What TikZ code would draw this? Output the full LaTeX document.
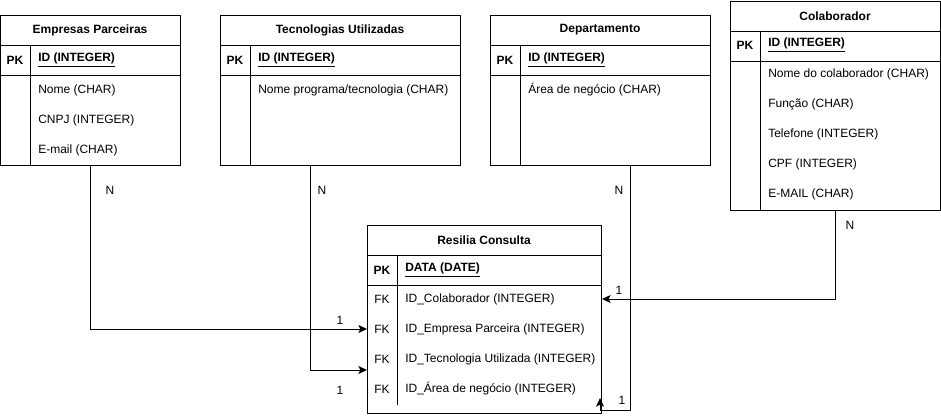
\documentclass[tikz,border=0pt]{standalone}
\usepackage{fontspec}
\setmainfont{Liberation Sans}
\usetikzlibrary{arrows.meta}

\begin{document}
\begin{tikzpicture}[x=0.75pt,y=-0.75pt,font=\fontsize{9}{11}\selectfont,
  box/.style={draw,line width=0.75pt,inner sep=0pt,anchor=north west},
  sep/.style={line width=0.75pt},
  title/.style={font=\fontsize{9}{11}\selectfont\bfseries},
  key/.style={font=\fontsize{9}{11}\selectfont\bfseries},
  field/.style={anchor=west,inner sep=0pt},
  rel/.style={draw,line width=0.75pt,-{Stealth[length=6.5pt,width=6pt,inset=1.5pt]}},
  card/.style={inner sep=0pt}]
  \useasboundingbox (0,0) rectangle (941,419);

  % Empresas Parceiras
  \node[box,minimum width=135pt,minimum height=112.5pt] (emp) at (0,15) {};
  \draw[sep] (0,45) -- (180,45) (0,75) -- (180,75) (30,45) -- (30,165);
  \node[title] (empT) at (90,30) {Empresas Parceiras};
  \node[key] (empPK) at (15,60) {PK};
  \node[field,key] (empId) at (38,60) {\underline{ID (INTEGER)}};
  \node[field] (empNome) at (38,90) {Nome (CHAR)};
  \node[field] (empCnpj) at (38,120) {CNPJ (INTEGER)};
  \node[field] (empMail) at (38,150) {E-mail (CHAR)};

  % Tecnologias Utilizadas
  \node[box,minimum width=180pt,minimum height=112.5pt] (tec) at (220,15) {};
  \draw[sep] (220,45) -- (460,45) (220,75) -- (460,75) (250,45) -- (250,165);
  \node[title] (tecT) at (340,30) {Tecnologias Utilizadas};
  \node[key] (tecPK) at (235,60) {PK};
  \node[field,key] (tecId) at (258,60) {\underline{ID (INTEGER)}};
  \node[field] (tecNome) at (258,90) {Nome programa/tecnologia (CHAR)};

  % Departamento
  \node[box,minimum width=165pt,minimum height=112.5pt] (dep) at (490,15) {};
  \draw[sep] (490,45) -- (710,45) (490,75) -- (710,75) (520,45) -- (520,165);
  \node[title] (depT) at (600,30) {Departamento};
  \node[key] (depPK) at (505,60) {PK};
  \node[field,key] (depId) at (528,60) {\underline{ID (INTEGER)}};
  \node[field] (depArea) at (528,90) {Área de negócio (CHAR)};

  % Colaborador
  \node[box,minimum width=157.5pt,minimum height=156.75pt] (col) at (730,1) {};
  \draw[sep] (730,31) -- (940,31) (730,61) -- (940,61) (760,31) -- (760,210);
  \node[title] (colT) at (835,16) {Colaborador};
  \node[key] (colPK) at (745,45) {PK};
  \node[field,key] (colId) at (768,45) {\underline{ID (INTEGER)}};
  \node[field] (colNome) at (768,74) {Nome do colaborador (CHAR)};
  \node[field] (colFunc) at (768,104) {Função (CHAR)};
  \node[field] (colTel) at (768,134) {Telefone (INTEGER)};
  \node[field] (colCpf) at (768,164) {CPF (INTEGER)};
  \node[field] (colMail) at (768,194) {E-MAIL (CHAR)};

  % Resilia Consulta
  \node[box,minimum width=175.5pt,minimum height=141pt] (res) at (367,225) {};
  \draw[sep] (367,255) -- (601,255) (367,285) -- (601,285) (397,255) -- (397,405);
  \node[title] (resT) at (484,240) {Resilia Consulta};
  \node[key] (resPK) at (382,270) {PK};
  \node[field,key] (resData) at (405,270) {\underline{DATA (DATE)}};
  \node (resFk1) at (382,299) {FK};
  \node[field] (resCol) at (405,299) {ID\_Colaborador (INTEGER)};
  \node (resFk2) at (382,329) {FK};
  \node[field] (resEmp) at (405,329) {ID\_Empresa Parceira (INTEGER)};
  \node (resFk3) at (382,359) {FK};
  \node[field] (resTec) at (405,359) {ID\_Tecnologia Utilizada (INTEGER)};
  \node (resFk4) at (382,389) {FK};
  \node[field] (resArea) at (405,389) {ID\_Área de negócio (INTEGER)};

  % ligacoes
  \coordinate (tecOut) at (310,165);
  \coordinate (resTecIn) at (367,370);
  \coordinate (depOut) at (630,165);
  \coordinate (resDepIn) at (600,398);
  \draw[rel] (emp.south) |- (res.west |- resEmp);
  \draw[rel] (tecOut) |- (resTecIn);
  \draw[rel] (depOut) -- (630,410) -| (resDepIn);
  \draw[rel] (col.south) |- (res.east |- resCol);

  % cardinalidades
  \node[card] (cEmpN) at (110,190) {N};
  \node[card] (cEmp1) at (340,320) {1};
  \node[card] (cTecN) at (322,190) {N};
  \node[card] (cTec1) at (340,390) {1};
  \node[card] (cDepN) at (619,190) {N};
  \node[card] (cDep1) at (622,400) {1};
  \node[card] (cColN) at (850,225) {N};
  \node[card] (cCol1) at (619,290) {1};
\end{tikzpicture}
\end{document}
